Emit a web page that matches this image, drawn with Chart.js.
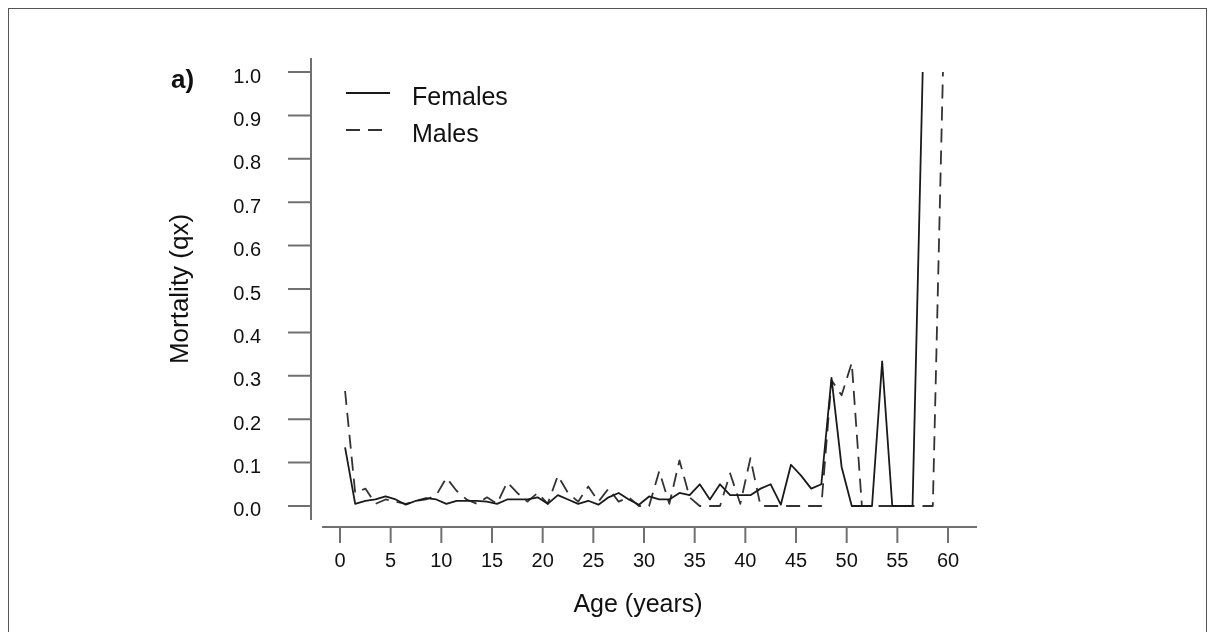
<!DOCTYPE html>
<html>
<head>
<meta charset="utf-8">
<title>Mortality (qx) by age</title>
<script src="https://cdn.jsdelivr.net/npm/chart.js@4"></script>
<style>
	html, body { margin: 0; padding: 0; background: #fff; }
	#wrap { position: relative; width: 1217px; height: 632px; overflow: hidden; }
	#frame {
		position: absolute; left: 8px; top: 8px; width: 1199px; height: 640px;
		border: 1px solid #555; box-sizing: border-box;
	}
	canvas { position: absolute; left: 0; top: 0; }
</style>
</head>
<body>
<div id="wrap">
	<div id="frame"></div>
	<canvas id="qxChart" width="1217" height="632"></canvas>
</div>
<script>
// age classes (midpoints, years)
const ages = [
	0.5, 1.5, 2.5, 3.5, 4.5, 5.5, 6.5, 7.5, 8.5, 9.5,
	10.5, 11.5, 12.5, 13.5, 14.5, 15.5, 16.5, 17.5, 18.5, 19.5,
	20.5, 21.5, 22.5, 23.5, 24.5, 25.5, 26.5, 27.5, 28.5, 29.5,
	30.5, 31.5, 32.5, 33.5, 34.5, 35.5, 36.5, 37.5, 38.5, 39.5,
	40.5, 41.5, 42.5, 43.5, 44.5, 45.5, 46.5, 47.5, 48.5, 49.5,
	50.5, 51.5, 52.5, 53.5, 54.5, 55.5, 56.5, 57.5, 58.5, 59.5
];

// qx
const femalesQx = [
	0.135, 0.005, 0.012, 0.015, 0.022, 0.015, 0.003, 0.012, 0.018, 0.015,
	0.005, 0.012, 0.012, 0.012, 0.010, 0.005, 0.015, 0.015, 0.015, 0.020,
	0.005, 0.025, 0.015, 0.005, 0.012, 0.003, 0.020, 0.030, 0.015, 0.003,
	0.022, 0.015, 0.015, 0.030, 0.025, 0.050, 0.015, 0.050, 0.025, 0.025,
	0.025, 0.040, 0.050, 0.003, 0.095, 0.070, 0.040, 0.050, 0.295, 0.090,
	0.000, 0.000, 0.000, 0.333, 0.000, 0.000, 0.000, 1.000
];

const malesQx = [
	0.265, 0.030, 0.040, 0.005, 0.015, 0.010, 0.005, 0.012, 0.015, 0.025,
	0.065, 0.035, 0.015, 0.005, 0.020, 0.005, 0.055, 0.030, 0.010, 0.030,
	0.005, 0.070, 0.030, 0.010, 0.045, 0.010, 0.040, 0.010, 0.020, 0.000,
	0.000, 0.080, 0.005, 0.105, 0.020, 0.000, 0.000, 0.000, 0.075, 0.005,
	0.110, 0.000, 0.000, 0.000, 0.000, 0.000, 0.000, 0.000, 0.290, 0.255,
	0.330, 0.000, 0.000, 0.000, 0.000, 0.000, 0.000, 0.000, 0.000, 1.000
];

const xTicks = [0, 5, 10, 15, 20, 25, 30, 35, 40, 45, 50, 55, 60];
const yTicks = [0, 0.1, 0.2, 0.3, 0.4, 0.5, 0.6, 0.7, 0.8, 0.9, 1.0];

const FONT = "'Liberation Sans', Arial, Helvetica, sans-serif";
const AXIS_COLOR = "#707070";
const DASH = [14, 8];
const X_AXIS_END = 62.86; // where the drawn x axis line stops

function toPoints(values) {
	return values.map((v, i) => ({ x: ages[i], y: v }));
}

// R style detached axes, panel letter and legend
const rDecorations = {
	id: "rDecorations",
	afterDraw(chart) {
		const ctx = chart.ctx;
		const area = chart.chartArea;
		const xs = chart.scales.x;
		const ys = chart.scales.y;

		ctx.save();
		ctx.strokeStyle = AXIS_COLOR;
		ctx.lineWidth = 2;

		// y axis
		const yx = area.left - 11;
		ctx.beginPath();
		ctx.moveTo(yx, area.top);
		ctx.lineTo(yx, area.bottom);
		yTicks.forEach(v => {
			const py = ys.getPixelForValue(v);
			ctx.moveTo(yx, py);
			ctx.lineTo(yx - 23, py);
		});
		ctx.stroke();

		// x axis
		const xy = area.bottom + 7;
		ctx.beginPath();
		ctx.moveTo(area.left, xy);
		ctx.lineTo(xs.getPixelForValue(X_AXIS_END), xy);
		xTicks.forEach(v => {
			const px = xs.getPixelForValue(v);
			ctx.moveTo(px, xy);
			ctx.lineTo(px, xy + 16);
		});
		ctx.stroke();

		// panel letter
		ctx.fillStyle = "#111";
		ctx.font = "bold 26px " + FONT;
		ctx.textAlign = "left";
		ctx.textBaseline = "middle";
		ctx.fillText("a)", 171, 81);

		// legend
		ctx.strokeStyle = "#1a1a1a";
		ctx.lineWidth = 1.8;
		ctx.beginPath();
		ctx.moveTo(346, 93);
		ctx.lineTo(390, 93);
		ctx.stroke();
		ctx.strokeStyle = "#333";
		ctx.setLineDash(DASH);
		ctx.beginPath();
		ctx.moveTo(346, 130);
		ctx.lineTo(385, 130);
		ctx.stroke();
		ctx.setLineDash([]);

		ctx.font = "25px " + FONT;
		ctx.fillText("Females", 412, 98);
		ctx.fillText("Males", 412, 135);
		ctx.restore();
	}
};

new Chart(document.getElementById("qxChart"), {
	type: "line",
	data: {
		datasets: [
			{
				label: "Females",
				data: toPoints(femalesQx),
				borderColor: "#1a1a1a",
				borderWidth: 1.8,
				pointRadius: 0,
				tension: 0,
				borderJoinStyle: "round"
			},
			{
				label: "Males",
				data: toPoints(malesQx),
				borderColor: "#333",
				borderWidth: 1.8,
				borderDash: DASH,
				pointRadius: 0,
				tension: 0,
				borderJoinStyle: "round"
			}
		]
	},
	options: {
		responsive: false,
		animation: false,
		layout: { padding: { left: 0, right: 263, top: 58, bottom: 0 } },
		plugins: {
			legend: { display: false },
			tooltip: { enabled: false }
		},
		scales: {
			x: {
				type: "linear",
				min: -1.776,
				max: 60.59,
				grid: { display: false, drawTicks: false },
				border: { display: false },
				afterBuildTicks: s => { s.ticks = xTicks.map(v => ({ value: v })); },
				afterFit: s => { s.height = 112; s.paddingLeft = 0; s.paddingRight = 0; },
				ticks: {
					color: "#111",
					font: { family: FONT, size: 20 },
					padding: 29,
					maxRotation: 0,
					autoSkip: false,
					callback: v => String(v)
				},
				title: {
					display: true,
					text: "Age (years)",
					color: "#111",
					font: { family: FONT, size: 25 },
					padding: { top: 0, bottom: 12 }
				}
			},
			y: {
				min: -0.0323,
				max: 1.0323,
				grid: { display: false, drawTicks: false },
				border: { display: false },
				afterBuildTicks: s => { s.ticks = yTicks.map(v => ({ value: v })); },
				afterFit: s => { s.width = 322; s.paddingTop = 0; s.paddingBottom = 0; },
				ticks: {
					color: "#111",
					font: { family: FONT, size: 20 },
					padding: 61,
					labelOffset: 5,
					autoSkip: false,
					callback: v => v.toFixed(1)
				},
				title: {
					display: true,
					text: "Mortality (qx)",
					color: "#111",
					font: { family: FONT, size: 26 },
					padding: { top: 165, bottom: 0 }
				}
			}
		}
	},
	plugins: [rDecorations]
});
</script>
</body>
</html>
